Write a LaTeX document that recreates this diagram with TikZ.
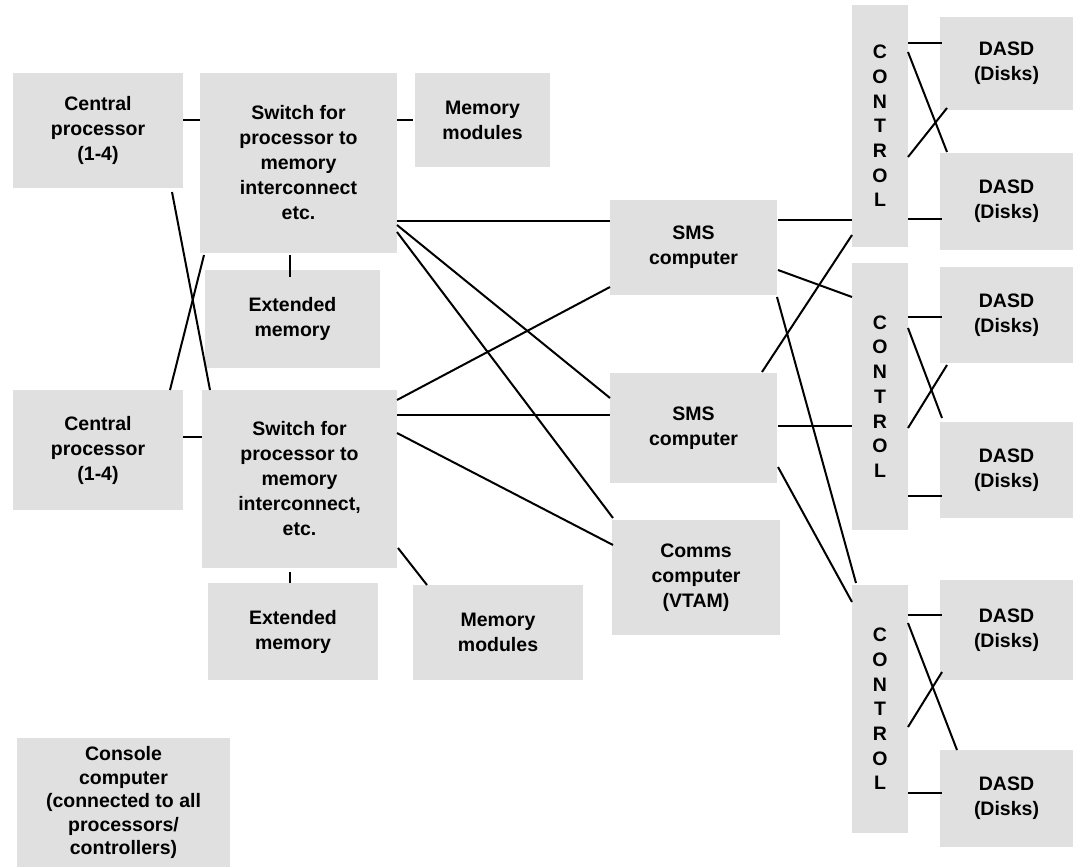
\documentclass[tikz,border=0pt]{standalone}
\usepackage{fontspec}
\setmainfont{Liberation Sans}
\definecolor{boxgray}{gray}{0.88}
\begin{document}
\begin{tikzpicture}[x=1pt,y=-1pt,
		box/.style={fill=boxgray, inner sep=0pt, outer sep=0pt, align=center, font=\bfseries\fontsize{19.5}{25}\selectfont},
		ctl/.style={box, minimum width=56pt, font=\bfseries\fontsize{19.5}{24.7}\selectfont},
		dasd/.style={box, minimum width=133pt},
		wire/.style={line width=2pt}]
	\useasboundingbox (0,0) rectangle (1073,867);
	% processors, switches, memory
	\node[box, minimum width=170pt, minimum height=115pt] (cp1) at (98,130.5) {Central\\processor\\(1-4)};
	\node[box, minimum width=197pt, minimum height=180pt] (sw1) at (298.5,163) {Switch for\\processor to\\memory\\interconnect\\etc.};
	\node[box, minimum width=135pt, minimum height=94pt] (mm1) at (482.5,120) {Memory\\modules};
	\node[box, minimum width=175pt, minimum height=98pt] (em1) at (292.5,319) {Extended\\memory};
	\node[box, minimum width=170pt, minimum height=120pt] (cp2) at (98,450) {Central\\processor\\(1-4)};
	\node[box, minimum width=195pt, minimum height=178pt] (sw2) at (299.5,479) {Switch for\\processor to\\memory\\interconnect,\\etc.};
	\node[box, minimum width=170pt, minimum height=97pt] (em2) at (293,631.5) {Extended\\memory};
	\node[box, minimum width=170pt, minimum height=95pt] (mm2) at (498,632.5) {Memory\\modules};
	\node[box, minimum width=213pt, minimum height=129pt, font=\bfseries\fontsize{19.5}{23.5}\selectfont] (con) at (123.5,802.5) {Console\\computer\\(connected to all\\processors/\\controllers)};
	% front-end computers
	\node[box, minimum width=167pt, minimum height=95pt] (sms1) at (693.5,247.5) {SMS\\computer};
	\node[box, minimum width=167pt, minimum height=110pt] (sms2) at (693.5,428) {SMS\\computer};
	\node[box, minimum width=168pt, minimum height=115pt] (comms) at (696,577.5) {Comms\\computer\\(VTAM)};
	% controllers and disks
	\node[ctl, minimum height=242pt] (ctl1) at (880,126) {C\\O\\N\\T\\R\\O\\L};
	\node[ctl, minimum height=267pt] (ctl2) at (880,396.5) {C\\O\\N\\T\\R\\O\\L};
	\node[ctl, minimum height=248pt] (ctl3) at (880,709) {C\\O\\N\\T\\R\\O\\L};
	\node[dasd, minimum height=93pt] (d1) at (1006.5,63.5) {DASD\\(Disks)};
	\node[dasd, minimum height=97pt] (d2) at (1006.5,201.5) {DASD\\(Disks)};
	\node[dasd, minimum height=96pt] (d3) at (1006.5,315) {DASD\\(Disks)};
	\node[dasd, minimum height=96pt] (d4) at (1006.5,470) {DASD\\(Disks)};
	\node[dasd, minimum height=100pt] (d5) at (1006.5,630) {DASD\\(Disks)};
	\node[dasd, minimum height=97pt] (d6) at (1006.5,798.5) {DASD\\(Disks)};

	\draw[wire] ([yshift=-47pt]cp1.north east) -- ([yshift=-47pt]sw1.north west);
	\draw[wire] ([yshift=-47pt]sw1.north east) -- ([xshift=-2pt,yshift=-47pt]mm1.north west);
	\draw[wire] ([xshift=-8.5pt,yshift=-2pt]sw1.south) -- ([xshift=-2.5pt,yshift=-7pt]em1.north);
	\draw[wire] ([xshift=-11pt,yshift=-4pt]cp1.south east) -- ([xshift=8pt]sw2.north west);
	\draw[wire] ([xshift=-13pt]cp2.north east) -- ([xshift=4pt,yshift=-2pt]sw1.south west);
	\draw[wire] ([yshift=-47pt]cp2.north east) -- ([yshift=-47pt]sw2.north west);
	\draw[wire] ([xshift=-9.5pt,yshift=-4pt]sw2.south) -- ([xshift=-3pt]em2.north);
	\draw[wire] ([xshift=1pt,yshift=20pt]sw2.south east) -- ([xshift=14pt]mm2.north west);
	% switches to front-end computers
	\draw[wire] ([yshift=-148pt]sw1.north east) -- ([yshift=-21pt]sms1.north west);
	\draw[wire] ([yshift=-152pt]sw1.north east) -- ([yshift=-25pt]sms2.north west);
	\draw[wire] ([yshift=-159pt]sw1.north east) -- ([xshift=1pt,yshift=2pt]comms.north west);
	\draw[wire] ([yshift=-10pt]sw2.north east) -- ([yshift=8pt]sms1.south west);
	\draw[wire] ([yshift=-25pt]sw2.north east) -- ([yshift=-42pt]sms2.north west);
	\draw[wire] ([yshift=-43pt]sw2.north east) -- ([xshift=1pt,yshift=-25pt]comms.north west);
	% front-end computers to controllers
	\draw[wire] ([xshift=1pt,yshift=-20pt]sms1.north east) -- ([yshift=-215pt]ctl1.north west);
	\draw[wire] ([xshift=1pt,yshift=-70pt]sms1.north east) -- ([yshift=-34pt]ctl2.north west);
	\draw[wire] ([yshift=-2pt]sms1.south east) -- ([xshift=4pt,yshift=2pt]ctl3.north west);
	\draw[wire] ([xshift=-15pt,yshift=1pt]sms2.north east) -- ([yshift=-230pt]ctl1.north west);
	\draw[wire] ([xshift=1pt,yshift=-53pt]sms2.north east) -- ([yshift=-163pt]ctl2.north west);
	\draw[wire] ([xshift=1pt,yshift=-94pt]sms2.north east) -- ([yshift=-17pt]ctl3.north west);
	% controllers to disks
	\draw[wire] ([yshift=-38pt]ctl1.north east) -- ([xshift=2pt,yshift=-26pt]d1.north west);
	\draw[wire] ([yshift=-47pt]ctl1.north east) -- ([xshift=7pt,yshift=1pt]d2.north west);
	\draw[wire] ([yshift=-152pt]ctl1.north east) -- ([xshift=7pt,yshift=2pt]d1.south west);
	\draw[wire] ([yshift=-214pt]ctl1.north east) -- ([xshift=2pt,yshift=-66pt]d2.north west);
	\draw[wire] ([yshift=-54pt]ctl2.north east) -- ([xshift=2pt,yshift=-50pt]d3.north west);
	\draw[wire] ([yshift=-65pt]ctl2.north east) -- ([xshift=2pt,yshift=4pt]d4.north west);
	\draw[wire] ([yshift=-165pt]ctl2.north east) -- ([xshift=7pt,yshift=-2pt]d3.south west);
	\draw[wire] ([yshift=-233pt]ctl2.north east) -- ([xshift=2pt,yshift=-74pt]d4.north west);
	\draw[wire] ([yshift=-30pt]ctl3.north east) -- ([xshift=2pt,yshift=-35pt]d5.north west);
	\draw[wire] ([yshift=-38pt]ctl3.north east) -- ([xshift=17pt]d6.north west);
	\draw[wire] ([yshift=-142pt]ctl3.north east) -- ([xshift=2pt,yshift=8pt]d5.south west);
	\draw[wire] ([yshift=-208pt]ctl3.north east) -- ([xshift=2pt,yshift=-43pt]d6.north west);
\end{tikzpicture}
\end{document}
